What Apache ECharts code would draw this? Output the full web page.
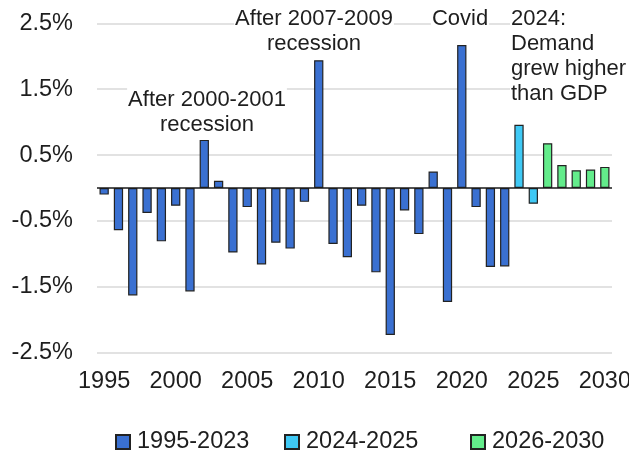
<!DOCTYPE html>
<html>
<head>
<meta charset="utf-8">
<script src="https://cdn.jsdelivr.net/npm/echarts@6/dist/echarts.min.js"></script>
<style>
html,body{margin:0;padding:0;background:#fff;}
#chart{width:629px;height:454px;}
</style>
</head>
<body>
<div id="chart"></div>
<script>
const years = [];
for (let y = 1995; y <= 2030; y++) years.push(String(y));

const hist = [ // 1995-2023
  -0.10, -0.64, -1.63, -0.38, -0.81, -0.27, -1.57, 0.73, 0.11, -0.98,
  -0.29, -1.16, -0.83, -0.92, -0.21, 1.94, -0.85, -1.05, -0.27, -1.28,
  -2.23, -0.34, -0.70, 0.25, -1.73, 2.17, -0.29, -1.20, -1.19
];
const near = [0.96, -0.24];            // 2024-2025
const outlook = [0.68, 0.35, 0.27, 0.28, 0.32]; // 2026-2030

const seriesNames = ['1995-2023', '2024-2025', '2026-2030'];
const colors = ['#3a70d1', '#3fc9f5', '#63ec8b'];
const yTicks = {min: -2.5, max: 2.5, step: 1};

function pad(arr, before, total) {
  const out = [];
  for (let i = 0; i < total; i++) {
    const j = i - before;
    out.push(j >= 0 && j < arr.length ? arr[j] : '-');
  }
  return out;
}
const n = years.length;
const d1 = pad(hist, 0, n);
const d2 = pad(near, hist.length, n);
const d3 = pad(outlook, hist.length + near.length, n);

const FONT = '"Liberation Sans", Arial, sans-serif';
const TXT = '#1e1e1e';

const chart = echarts.init(document.getElementById('chart'), null, {renderer: 'canvas'});

function mkSeries(name, data, color, extra) {
  return Object.assign({
    name: name,
    type: 'bar',
    data: data,
    barWidth: '65%',
    barGap: '-100%',
    itemStyle: {color: color, borderColor: '#222', borderWidth: 1.2},
    emphasis: {disabled: true},
    animation: false
  }, extra || {});
}

const legendBase = {
  top: 430,
  padding: 0,
  itemWidth: 14,
  itemHeight: 14,
  icon: 'rect',
  itemGap: 0,
  textStyle: {fontFamily: FONT, fontSize: 23.5, color: TXT, padding: [0, 0, 0, 2]},
  selectedMode: false
};

function note(text, x, y, align) {
  return {
    type: 'text', x: x, y: y, z: 10,
    style: {
      text: text, font: '22px ' + FONT, fill: TXT, align: align,
      verticalAlign: 'top', lineHeight: 25,
      backgroundColor: '#fff', padding: [0, 1, 0, 1]
    }
  };
}

chart.setOption({
  animation: false,
  backgroundColor: '#fff',
  grid: {left: 97, right: 17, top: 23.3, bottom: 101.3, containLabel: false, outerBoundsMode: 'none'},
  legend: [
    Object.assign({}, legendBase, {left: 115, data: [seriesNames[0]]}),
    Object.assign({}, legendBase, {left: 284, data: [seriesNames[1]]}),
    Object.assign({}, legendBase, {left: 470, data: [seriesNames[2]]})
  ],
  xAxis: {
    type: 'category',
    data: years,
    axisLine: {show: false},
    axisTick: {show: false},
    splitLine: {show: false},
    axisLabel: {
      interval: 4,
      margin: 17,
      fontFamily: FONT,
      fontSize: 23.5,
      color: TXT,
      hideOverlap: false
    }
  },
  yAxis: {
    type: 'value',
    min: yTicks.min,
    max: yTicks.max,
    interval: yTicks.step,
    axisLine: {show: false},
    axisTick: {show: false},
    splitLine: {show: true, lineStyle: {color: '#d9d9d9', width: 1.5}},
    axisLabel: {
      margin: 24,
      fontFamily: FONT,
      fontSize: 23.5,
      color: TXT,
      formatter: v => v.toFixed(1) + '%'
    }
  },
  series: [
    mkSeries(seriesNames[0], d1, colors[0], {
      markLine: {
        silent: true,
        symbol: 'none',
        animation: false,
        label: {show: false},
        lineStyle: {color: '#1a1a1a', width: 1.6, type: 'solid'},
        data: [{yAxis: 0}]
      }
    }),
    mkSeries(seriesNames[1], d2, colors[1]),
    mkSeries(seriesNames[2], d3, colors[2])
  ],
  graphic: [
    note('After 2000-2001\nrecession', 207, 87, 'center'),
    note('After 2007-2009\nrecession', 314, 6.6, 'center'),
    note('Covid', 460, 6.6, 'center'),
    note('2024:\nDemand\ngrew higher\nthan GDP', 510, 6.6, 'left')
  ]
});
</script>
</body>
</html>
